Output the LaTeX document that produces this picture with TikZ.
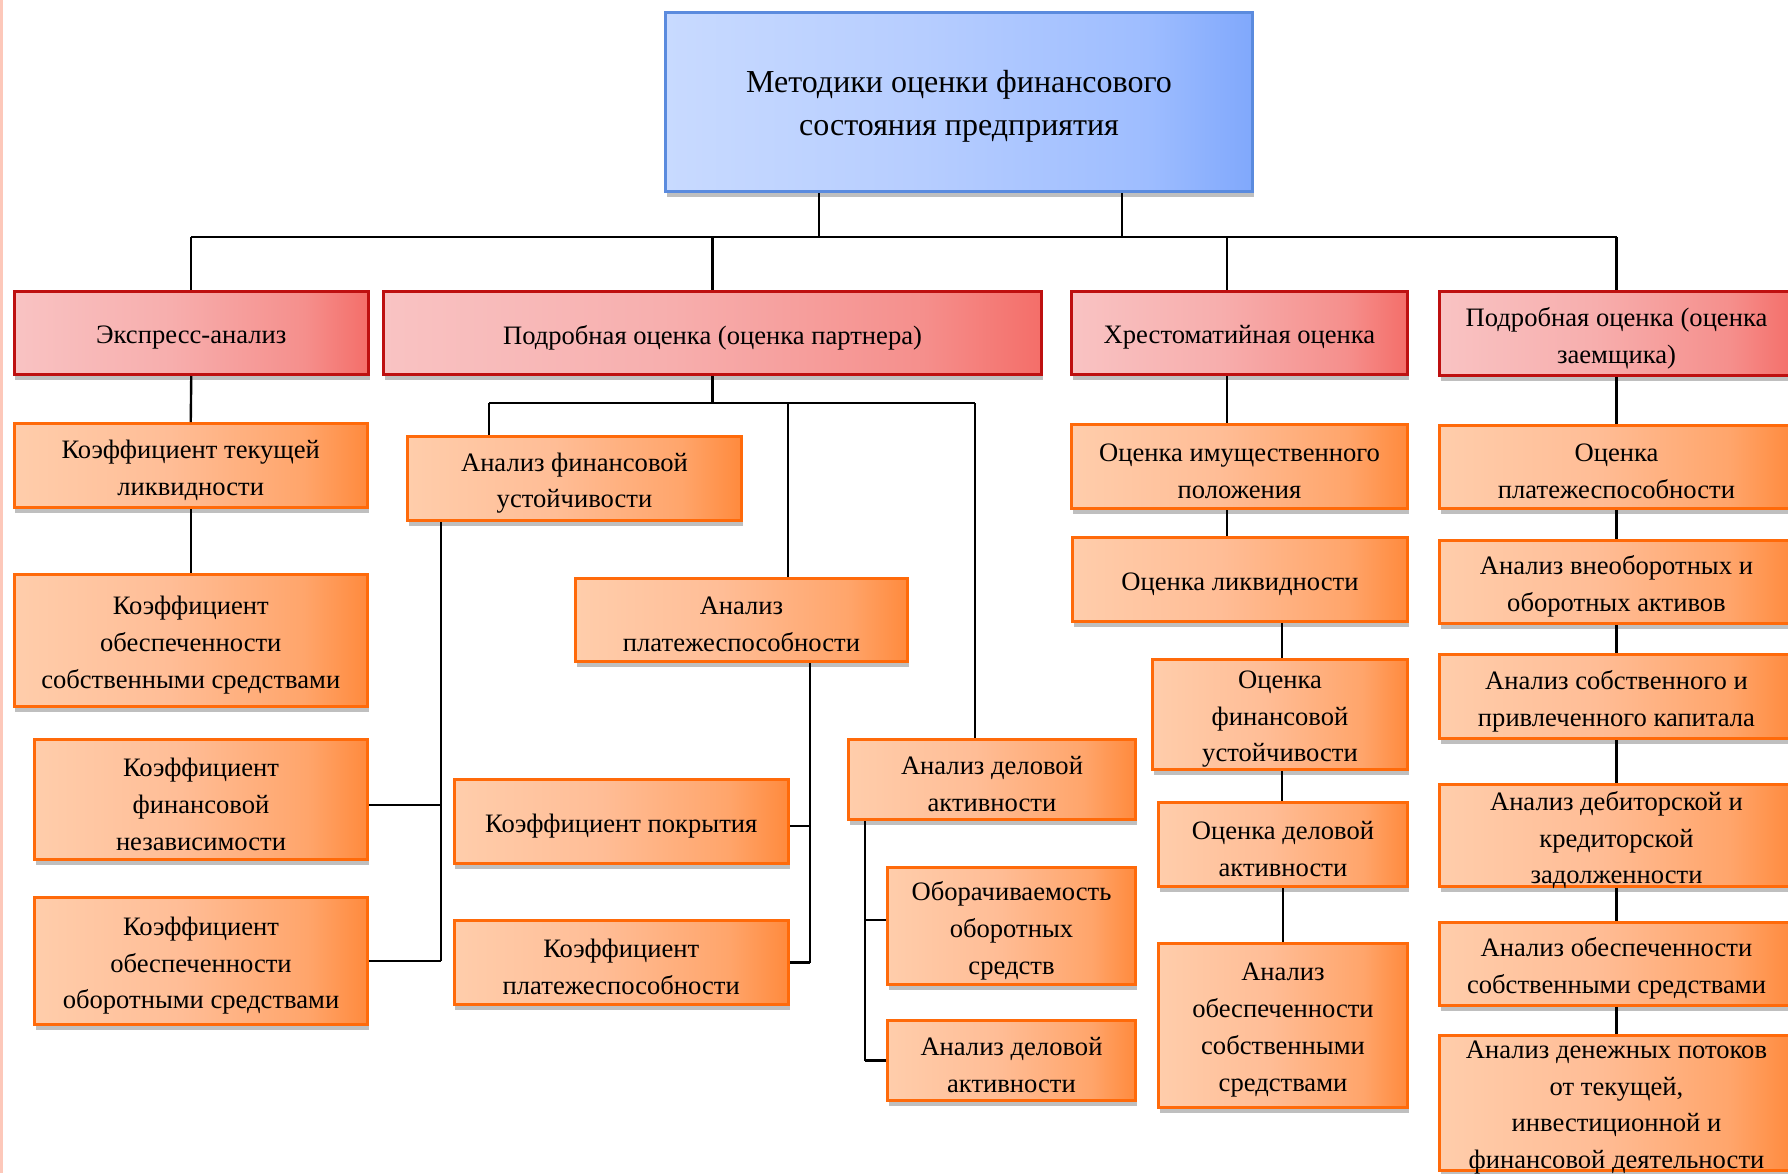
\documentclass[tikz,border=0pt]{standalone}
\usepackage{fontspec}
\setmainfont{Liberation Serif}
\usetikzlibrary{shadows}
\definecolor{oA}{HTML}{FFCDAB}
\definecolor{oB}{HTML}{FFBD96}
\definecolor{oC}{HTML}{FFA56B}
\definecolor{oD}{HTML}{FF8A3D}
\definecolor{oBorder}{HTML}{FF6A0A}
\definecolor{rA}{HTML}{F9C3C3}
\definecolor{rB}{HTML}{F7AEAD}
\definecolor{rC}{HTML}{F58F8C}
\definecolor{rD}{HTML}{F46E69}
\definecolor{rBorder}{HTML}{BE1010}
\definecolor{bA}{HTML}{C8DAFF}
\definecolor{bB}{HTML}{B6CDFF}
\definecolor{bC}{HTML}{9EBDFF}
\definecolor{bD}{HTML}{80A8FC}
\definecolor{bBorder}{HTML}{5B8BDE}
\definecolor{edgepink}{HTML}{FDC8BA}
\pgfdeclarehorizontalshading{orsh}{100bp}{color(0bp)=(oA); color(25bp)=(oA); color(47bp)=(oB); color(66bp)=(oC); color(75bp)=(oD); color(100bp)=(oD)}
\pgfdeclarehorizontalshading{rdsh}{100bp}{color(0bp)=(rA); color(25bp)=(rA); color(47bp)=(rB); color(66bp)=(rC); color(75bp)=(rD); color(100bp)=(rD)}
\pgfdeclarehorizontalshading{blsh}{100bp}{color(0bp)=(bA); color(25bp)=(bA); color(47bp)=(bB); color(66bp)=(bC); color(75bp)=(bD); color(100bp)=(bD)}
\newcommand\fsa{\fontsize{13.3}{18.4}\selectfont}
\newcommand\fsb{\fontsize{16}{21.7}\selectfont}
% #1 box style, #2 text style, #3 name, #4..#7 x1 y1 x2 y2, #8 text
\newcommand\bx[8]{%
  \node[#1, minimum width={(#6-#4)*0.5pt-1.5pt}, minimum height={(#7-#5)*0.5pt-1.5pt}] (#3) at ({(#4+#6)/2},{(#5+#7)/2}) {};
  \node[#2] (#3-t) at ([yshift=-2.3pt]#3.center) {#8};}
\begin{document}
\begin{tikzpicture}[x=0.5pt,y=-0.5pt,
  basebox/.style={rectangle, inner sep=0pt, line width=1.5pt,
    drop shadow={shadow xshift=0.6pt, shadow yshift=-2.8pt, opacity=0.25, fill=black}},
  obox/.style={basebox, draw=oBorder, shade, shading=orsh},
  rbox/.style={basebox, draw=rBorder, shade, shading=rdsh},
  bbox/.style={basebox, draw=bBorder, shade, shading=blsh},
  txt/.style={align=center, text=black, font=\fsa, inner sep=0pt},
  bigtxt/.style={txt, font=\fsb},
  conn/.style={draw=black, line width=1.2pt}]
\useasboundingbox (0,0) rectangle (1788,1173);
\clip (0,0) rectangle (1788,1173);
\fill[white] (0,0) rectangle (1788,1173);
\fill[edgepink] (0,0) rectangle (3,1173);

% top
\bx{bbox}{bigtxt}{top}{664}{11}{1254}{193}{Методики оценки финансового\\состояния предприятия}
% level 2
\bx{rbox}{txt}{ex}{12.5}{290}{370}{376}{Экспресс-анализ}
\bx{rbox}{txt}{pa}{382}{290}{1043}{376}{Подробная оценка (оценка партнера)}
\bx{rbox}{txt}{hr}{1070}{290}{1409}{376}{Хрестоматийная оценка}
\bx{rbox}{txt}{za}{1438}{290}{1795}{377}{Подробная оценка (оценка\\заемщика)}
% express column
\bx{obox}{txt}{k1}{12.5}{422}{369}{509}{Коэффициент текущей\\ликвидности}
\bx{obox}{txt}{k2}{12.5}{573}{369}{708}{Коэффициент\\обеспеченности\\собственными средствами}
\bx{obox}{txt}{kfn}{33}{738}{369}{861}{Коэффициент\\финансовой\\независимости}
\bx{obox}{txt}{koo}{33}{896}{369}{1026}{Коэффициент\\обеспеченности\\оборотными средствами}
% partner column
\bx{obox}{txt}{af}{406}{435}{743}{522}{Анализ финансовой\\устойчивости}
\bx{obox}{txt}{ap}{574}{577}{909}{663}{Анализ\\платежеспособности}
\bx{obox}{txt}{ad}{847}{738}{1137}{821}{Анализ деловой\\активности}
\bx{obox}{txt}{kp}{452.5}{778}{790}{865}{Коэффициент покрытия}
\bx{obox}{txt}{kpl}{452.5}{919}{790}{1006}{Коэффициент\\платежеспособности}
\bx{obox}{txt}{ob}{886}{866}{1137}{986}{Оборачиваемость\\оборотных\\средств}
\bx{obox}{txt}{adb}{886}{1019}{1137}{1102}{Анализ деловой\\активности}
% chrestomathy column
\bx{obox}{txt}{oi}{1070}{423}{1409}{510}{Оценка имущественного\\положения}
\bx{obox}{txt}{ol}{1071}{536}{1409}{623}{Оценка ликвидности}
\bx{obox}{txt}{ofu}{1151}{658}{1409}{771}{Оценка\\финансовой\\устойчивости}
\bx{obox}{txt}{oda}{1157}{801}{1409}{888}{Оценка деловой\\активности}
\bx{obox}{txt}{aos}{1157}{942}{1409}{1109}{Анализ\\обеспеченности\\собственными\\средствами}
% borrower column
\bx{obox}{txt}{z1}{1438}{424}{1795}{510}{Оценка\\платежеспособности}
\bx{obox}{txt}{z2}{1438}{539}{1795}{625}{Анализ внеоборотных и\\оборотных активов}
\bx{obox}{txt}{z3}{1438}{653}{1795}{740}{Анализ собственного и\\привлеченного капитала}
\bx{obox}{txt}{z4}{1438}{783}{1795}{888}{Анализ дебиторской и\\кредиторской\\задолженности}
\bx{obox}{txt}{z5}{1438}{921}{1795}{1007}{Анализ обеспеченности\\собственными средствами}
\bx{obox}{txt}{z6}{1438}{1034}{1795}{1172}{Анализ денежных потоков\\от текущей,\\инвестиционной и\\финансовой деятельности}

% ---- connectors ----
\coordinate (busy) at (0,237);
\coordinate (t1) at (819,237);
\coordinate (t2) at (1122,237);
\coordinate (hrx) at (1227,237);
\draw[conn] (ex.north |- busy) -- (za.north |- busy);
\draw[conn] (t1 |- top.south) -- (t1);
\draw[conn] (t2 |- top.south) -- (t2);
\draw[conn] (ex.north |- busy) -- (ex.north);
\draw[conn] (pa.north |- busy) -- (pa.north);
\draw[conn] (hrx) -- (hrx |- hr.north);
\draw[conn] (za.north |- busy) -- (za.north);
% express
\draw[conn] (ex.south) -- (k1.north);
\draw[conn] (k1.south) -- (k2.north);
% partner
\coordinate (pby) at (0,403);
\coordinate (p1) at (489,403);
\coordinate (p2) at (788,403);
\coordinate (p3) at (975,403);
\draw[conn] (pa.south) -- (pa.south |- pby);
\draw[conn] (p1) -- (p3);
\draw[conn] (p1) -- (p1 |- af.north);
\draw[conn] (p2) -- (p2 |- ap.north);
\draw[conn] (p3) -- (p3 |- ad.north);
\coordinate (lv) at (441,0);
\coordinate (lb) at (441,805);
\draw[conn] (lv |- af.south) -- (lv |- koo.east);
\draw[conn] (lb -| kfn.east) -- (lb);
\draw[conn] (koo.east) -- (koo.east -| lv);
\coordinate (rv) at (810,0);
\coordinate (rb) at (810,826);
\draw[conn] (rv |- ap.south) -- (rv |- kpl.east);
\draw[conn] (rb -| kp.east) -- (rb);
\draw[conn] (kpl.east) -- (kpl.east -| rv);
\coordinate (dv) at (865,0);
\coordinate (db) at (865,920);
\draw[conn] (dv |- ad.south) -- (dv |- adb.west);
\draw[conn] (db) -- (db -| ob.west);
\draw[conn] (adb.west -| dv) -- (adb.west);
% chrestomathy
\coordinate (hv) at (1227,0);
\coordinate (hv2) at (1282,0);
\draw[conn] (hv |- hr.south) -- (hv |- oi.north);
\draw[conn] (hv |- oi.south) -- (hv |- ol.north);
\draw[conn] (hv2 |- ol.south) -- (hv2 |- ofu.north);
\draw[conn] (hv2 |- ofu.south) -- (hv2 |- oda.north);
\draw[conn] (oda.south) -- (aos.north);
% borrower
\draw[conn] (za.south) -- (z1.north);
\draw[conn] (z1.south) -- (z2.north);
\draw[conn] (z2.south) -- (z3.north);
\draw[conn] (z3.south) -- (z4.north);
\draw[conn] (z4.south) -- (z5.north);
\draw[conn] (z5.south) -- (z6.north);
\end{tikzpicture}
\end{document}
